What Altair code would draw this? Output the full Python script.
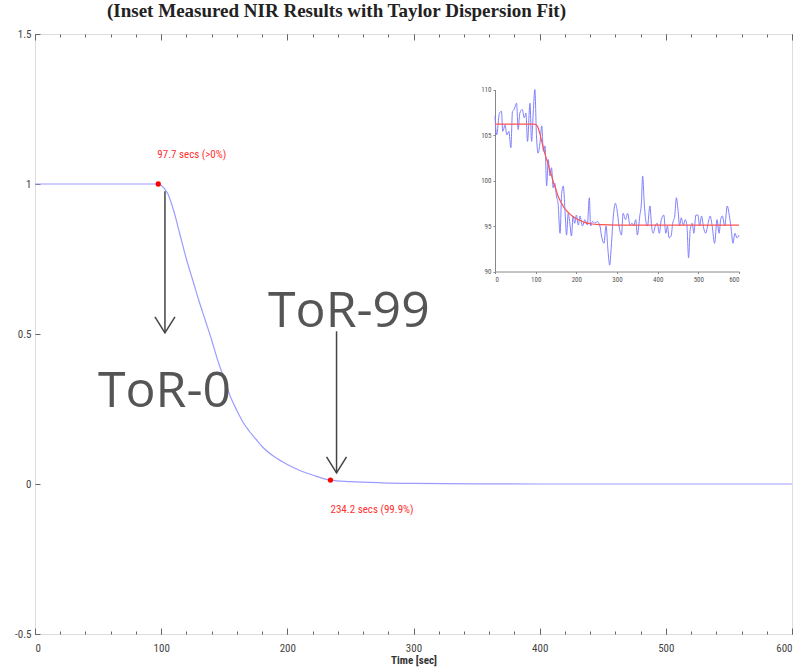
import altair as alt
import pandas as pd

# ---- Taylor dispersion fit (normalised response vs time) ----
curve_t = [0, 50, 90, 97.7, 100, 105, 110, 115, 120, 125, 130, 135, 140, 145, 150,
           155, 160, 165, 170, 175, 180, 190, 200, 210, 220, 234.2, 250, 275, 300,
           350, 400, 500, 600]
curve_v = [1, 1, 1, 1, 0.995, 0.97, 0.91, 0.83, 0.75, 0.68, 0.61, 0.545, 0.48, 0.41,
           0.35, 0.29, 0.245, 0.205, 0.175, 0.15, 0.125, 0.09, 0.065, 0.045, 0.03,
           0.013, 0.008, 0.004, 0.002, 0.0005, 0, 0, 0]

# ---- marked transition points ----
marker_t = [97.7, 234.2]
marker_v = [1.0, 0.013]
marker_text = ["97.7 secs (>0%)", "234.2 secs (99.9%)"]

# ---- inset: measured NIR signal ----
nir_t = [0, 4, 11, 16, 19, 25, 29, 34, 39, 43, 47, 53, 57, 61, 67, 72, 76, 80, 86, 90,
         94, 98, 102, 106, 110, 115, 119, 123, 127, 131, 135, 139, 143, 147, 151, 155,
         160, 164, 168, 172, 176, 180, 184, 188, 192, 196, 200, 205, 209, 215, 221, 227,
         232, 235, 240, 246, 251, 258, 262, 268, 273, 278, 282, 286, 291, 296, 300, 305,
         311, 315, 321, 326, 332, 337, 341, 346, 350, 356, 360, 363, 367, 371, 375, 381,
         385, 389, 394, 399, 404, 409, 415, 420, 424, 428, 433, 437, 442, 446, 450, 454,
         458, 463, 468, 472, 476, 480, 485, 489, 494, 499, 503, 508, 513, 518, 524, 529,
         534, 540, 546, 551, 555, 559, 565, 571, 577, 581, 585, 590, 595, 600]
nir_v = [107.1, 105.0, 107.4, 107.6, 105.4, 106.1, 105.0, 105.4, 103.6, 107.6, 107.8,
         108.5, 105.6, 107.4, 107.8, 106.9, 107.4, 104.3, 108.5, 104.3, 107.4, 110.0,
         104.9, 103.0, 103.9, 106.0, 103.2, 103.8, 99.4, 102.3, 100.5, 101.4, 99.2, 99.7,
         98.3, 97.5, 94.2, 98.6, 99.4, 96.8, 94.0, 96.4, 95.3, 93.9, 96.1, 95.3, 96.2,
         95.1, 96.1, 95.0, 95.7, 95.1, 98.1, 95.0, 95.5, 95.3, 95.5, 95.0, 93.9, 93.1,
         95.0, 92.2, 90.7, 92.8, 96.1, 97.5, 96.8, 95.0, 94.0, 96.4, 95.7, 96.4, 95.1,
         95.3, 95.0, 95.7, 94.0, 96.1, 97.5, 100.5, 97.5, 95.5, 95.0, 97.2, 95.0, 94.2,
         95.0, 95.3, 94.2, 95.7, 96.2, 94.2, 95.0, 93.7, 93.9, 95.3, 96.1, 98.1, 96.8,
         95.0, 95.9, 95.1, 95.7, 95.0, 91.5, 94.6, 95.3, 94.2, 96.2, 96.2, 95.0, 96.1,
         94.8, 94.2, 95.3, 96.1, 95.0, 93.1, 95.7, 94.2, 95.7, 96.1, 95.0, 97.2, 95.9,
         94.6, 93.1, 94.2, 93.7, 94.0]

# ---- inset: fitted curve ----
fit_t = [0, 95, 100, 105, 110, 115, 120, 125, 130, 135, 140, 145, 150, 155, 160, 165,
         170, 180, 190, 200, 210, 220, 235, 260, 300, 600]
fit_v = [106.2, 106.2, 106.15, 105.9, 105.2, 104.3, 103.4, 102.6, 101.9, 101.1, 100.4,
         99.6, 99.0, 98.3, 97.8, 97.4, 97.0, 96.5, 96.1, 95.8, 95.6, 95.4, 95.25, 95.15,
         95.1, 95.1]

# ---- callouts ----
callout_text = ["ToR-0", "ToR-99"]
callout_t = [49.9, 184.7]
callout_v = [0.258, 0.522]
arrow_t = [103.0, 239.0]
arrow_top = [0.976, 0.509]
arrow_tip = [0.504, 0.037]

x_major = [0, 100, 200, 300, 400, 500, 600]
x_minor = list(range(0, 601, 20))
y_major = [-0.5, 0, 0.5, 1, 1.5]
inset_x_ticks = [0, 100, 200, 300, 400, 500, 600]
inset_y_ticks = [90, 95, 100, 105, 110]

W, H = 757, 600
NARROW = "Liberation Sans Narrow, Roboto Condensed, Liberation Sans, sans-serif"

curve_df = pd.DataFrame({"t": curve_t, "v": curve_v})
marker_df = pd.DataFrame({"t": marker_t, "v": marker_v, "label": marker_text})
nir_df = pd.DataFrame({"t": nir_t, "v": nir_v})
fit_df = pd.DataFrame({"t": fit_t, "v": fit_v})
callout_df = pd.DataFrame({"t": callout_t, "v": callout_v, "label": callout_text})
arrow_df = pd.DataFrame({"t": arrow_t, "top": arrow_top, "tip": arrow_tip})

# every layer owns its scales; the main ones all share this domain
xs = alt.Scale(domain=[0, 600], nice=False, zero=False)
ys = alt.Scale(domain=[-0.5, 1.5], nice=False, zero=False)
# inset scales are mapped into the upper-right corner of the plot
ixs = alt.Scale(domain=[0, 600], range=[460, 704], nice=False, zero=False)
iys = alt.Scale(domain=[90, 110], range=[237.5, 55.5], nice=False, zero=False)


def tick_axis(orient, values, size, offset):
    return alt.Axis(orient=orient, values=values, labels=False, tickSize=size,
                    offset=offset, domain=False, grid=False, title="",
                    tickColor="#666", tickWidth=1)


# main curve carries the labelled axes
curve = alt.Chart(curve_df).mark_line(color="#9c9cff", strokeWidth=1.2,
                                      interpolate="monotone").encode(
    x=alt.X("t:Q", scale=xs, axis=alt.Axis(
        orient="bottom", values=x_major, tickSize=0, domain=False, grid=False,
        labelFont=NARROW, labelFontSize=11, labelColor="#444", labelPadding=8,
        title="Time [sec]", titleFont=NARROW, titleFontSize=11, titleFontWeight="bold",
        titleColor="#333", titlePadding=1)),
    y=alt.Y("v:Q", scale=ys, axis=alt.Axis(
        orient="left", values=y_major, tickSize=0, domain=False, grid=False,
        labelFont=NARROW, labelFontSize=11, labelColor="#444", labelPadding=4,
        labelExpr="'' + datum.value", title="")),
)


# invisible layers that draw the inward-pointing ticks of the box
def ticks_layer(x_axis, y_axis):
    return alt.Chart(curve_df).mark_line(opacity=0).encode(
        x=alt.X("t:Q", scale=xs, axis=x_axis),
        y=alt.Y("v:Q", scale=ys, axis=y_axis),
    )


t_bottom_minor = ticks_layer(tick_axis("top", x_minor, 3, -H),
                             tick_axis("right", y_major, 5, -W))
t_top_minor = ticks_layer(tick_axis("bottom", x_minor, 3, -H), None)
t_bottom_major = ticks_layer(tick_axis("top", x_major, 6, -H), None)
t_top_major = ticks_layer(tick_axis("bottom", x_major, 6, -H), None)

dots = alt.Chart(marker_df).mark_point(filled=True, color="#ff0000", size=28,
                                        opacity=1).encode(
    x=alt.X("t:Q", scale=xs, axis=None),
    y=alt.Y("v:Q", scale=ys, axis=None),
)

label_top = alt.Chart(marker_df).transform_filter("datum.t < 150").mark_text(
    align="left", baseline="alphabetic", dx=-1, dy=-26, font=NARROW, fontSize=11,
    color="#ff3030").encode(
    x=alt.X("t:Q", scale=xs, axis=None),
    y=alt.Y("v:Q", scale=ys, axis=None),
    text="label:N",
)
label_bottom = alt.Chart(marker_df).transform_filter("datum.t > 150").mark_text(
    align="left", baseline="alphabetic", dx=0, dy=33, font=NARROW, fontSize=11,
    color="#ff3030").encode(
    x=alt.X("t:Q", scale=xs, axis=None),
    y=alt.Y("v:Q", scale=ys, axis=None),
    text="label:N",
)

shafts = alt.Chart(arrow_df).mark_rule(color="#444", strokeWidth=1.5).encode(
    x=alt.X("t:Q", scale=xs, axis=None),
    y=alt.Y("top:Q", scale=ys, axis=None),
    y2="tip:Q",
)
heads = alt.Chart(arrow_df).mark_point(
    shape="M-1,-1.6L0,0L1,-1.6", size=400, filled=False, color="#444",
    strokeWidth=1.5, opacity=1).encode(
    x=alt.X("t:Q", scale=xs, axis=None),
    y=alt.Y("tip:Q", scale=ys, axis=None),
)

callouts = alt.Chart(callout_df).mark_text(
    align="left", baseline="alphabetic", font="Open Sans", fontSize=50,
    color="#555555").encode(
    x=alt.X("t:Q", scale=xs, axis=None),
    y=alt.Y("v:Q", scale=ys, axis=None),
    text="label:N",
)

inset_axis_style = dict(domain=True, domainColor="#888", tickColor="#888", tickSize=2,
                        grid=False, labelFont=NARROW, labelFontSize=7,
                        labelColor="#555", title="")

nir_line = alt.Chart(nir_df).mark_line(color="#8080ff", strokeWidth=1,
                                       interpolate="monotone").encode(
    x=alt.X("t:Q", scale=ixs, axis=alt.Axis(orient="bottom", offset=-(H - 237.5),
                                            values=inset_x_ticks, labelPadding=2,
                                            **inset_axis_style)),
    y=alt.Y("v:Q", scale=iys, axis=alt.Axis(orient="left", offset=-460,
                                            values=inset_y_ticks, labelPadding=2,
                                            **inset_axis_style)),
)
fit_line = alt.Chart(fit_df).mark_line(color="#ff5050", strokeWidth=1.2,
                                       interpolate="monotone").encode(
    x=alt.X("t:Q", scale=ixs, axis=None),
    y=alt.Y("v:Q", scale=iys, axis=None),
)

chart = alt.layer(
    curve, t_bottom_minor, t_top_minor, t_bottom_major, t_top_major,
    shafts, heads, dots, label_top, label_bottom, callouts,
    nir_line, fit_line,
).resolve_scale(
    x="independent", y="independent"
).resolve_axis(
    x="independent", y="independent"
).properties(
    width=W,
    height=H,
    autosize=alt.AutoSizeParams(type="none"),
    padding={"left": 35, "top": 34, "right": 10, "bottom": 36},
    title=alt.TitleParams(
        "(Inset Measured NIR Results with Taylor Dispersion Fit)",
        anchor="start", frame="group", dx=72, dy=22, offset=14, baseline="alphabetic",
        font="Liberation Serif", fontSize=19, fontWeight="bold", color="#222",
    ),
).configure_view(
    stroke="#9a9a9a", strokeWidth=1.2
).configure(background="white")

chart.save("out.html", embed_options={"renderer": "svg", "actions": False})
